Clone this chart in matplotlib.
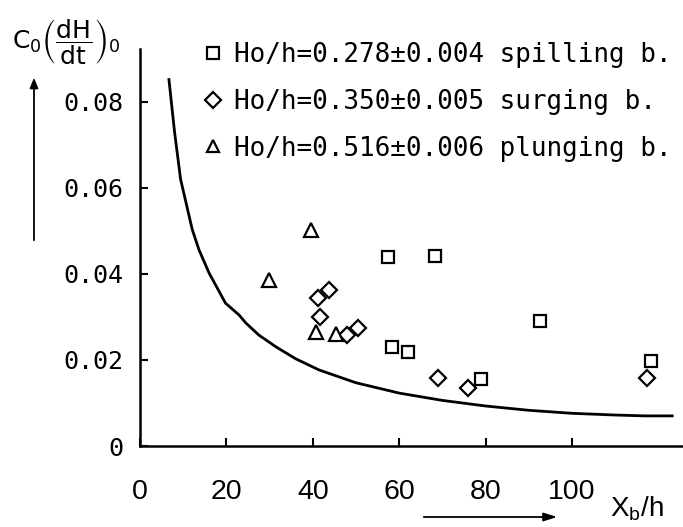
import matplotlib
matplotlib.use("Agg")
import matplotlib.pyplot as plt

# data
spill_x = [57.4, 68.4, 58.4, 62.0, 79.0, 92.5, 118.4]
spill_y = [0.0440, 0.0441, 0.0231, 0.0219, 0.0155, 0.0290, 0.0197]

surg_x = [43.75, 41.2, 41.7, 48.0, 50.5, 69.0, 76.0, 117.4]
surg_y = [0.0362, 0.0343, 0.0299, 0.0259, 0.0274, 0.0159, 0.0134, 0.0159]

plung_x = [39.5, 29.9, 40.7, 45.4]
plung_y = [0.0502, 0.0387, 0.0265, 0.0260]

curve_x = [6.7, 8, 9.4, 12.1, 13.7, 16, 19.8, 22.9, 24.5, 27.5, 31.4, 36, 41.4,
           50, 60, 70, 80, 90, 100, 110, 117, 123.2]
curve_y = [0.0852, 0.0730, 0.0620, 0.0503, 0.0455, 0.0402, 0.0332, 0.0305, 0.0286,
           0.0258, 0.0231, 0.0203, 0.0177, 0.0147, 0.0123, 0.0106, 0.0093, 0.0083,
           0.0076, 0.0072, 0.0070, 0.0070]

labels = ["Ho/h=0.278±0.004 spilling b.",
          "Ho/h=0.350±0.005 surging b.",
          "Ho/h=0.516±0.006 plunging b."]
xticks = [0, 20, 40, 60, 80, 100]
yticks = [0, 0.02, 0.04, 0.06, 0.08]
ytick_labels = ["0", "0.02", "0.04", "0.06", "0.08"]

W, H = 683, 527
fig = plt.figure(figsize=(W / 100, H / 100), dpi=100)
ax = fig.add_axes([140 / W, 1 - 446 / H, 1 - 140 / W, (446 - 49) / H])

ax.plot(curve_x, curve_y, color="black", lw=2.0)
mk = dict(linestyle="none", mfc="white", mec="black", mew=1.6, color="black")
h1, = ax.plot(spill_x, spill_y, marker="s", ms=8.5, label=labels[0], **mk)
h2, = ax.plot(surg_x, surg_y, marker="D", ms=8.5, label=labels[1], **mk)
h3, = ax.plot(plung_x, plung_y, marker="^", ms=10, label=labels[2], **mk)

ax.set_xlim(0, 125.7)
ax.set_ylim(0, 0.0923)
for s in ["top", "right"]:
    ax.spines[s].set_visible(False)
for s in ["left", "bottom"]:
    ax.spines[s].set_linewidth(1.8)

ax.set_xticks(xticks)
ax.set_xticklabels([str(t) for t in xticks], family="Liberation Sans", fontsize=20.5)
ax.set_yticks(yticks)
ax.set_yticklabels(ytick_labels, family="DejaVu Sans Mono", fontsize=18)
ax.tick_params(axis="x", direction="in", length=6, width=1.5, pad=24)
ax.tick_params(axis="y", direction="in", length=6, width=1.5, pad=12)

leg = ax.legend(handles=[h1, h2, h3], loc="upper left",
                bbox_to_anchor=(190 / W, 1 - 29 / H), bbox_transform=fig.transFigure,
                frameon=False, handlelength=0.8, handletextpad=0.4, borderpad=0,
                labelspacing=0.8, prop={"family": "DejaVu Sans Mono", "size": 18.7})
for lh in leg.legend_handles:
    lh.set_markersize(8)

# axis titles and arrows
fig.text(12 / W, 1 - 42 / H, r"$\mathregular{C_0\left(\dfrac{dH}{dt}\right)_0}$",
         fontsize=18, ha="left", va="center")
fig.text(610 / W, 1 - 509 / H, r"$\mathregular{X_b/h}$", fontsize=20,
         ha="left", va="center", family="Liberation Sans")
fig.add_artist(matplotlib.patches.FancyArrowPatch(
    (34 / W, 1 - 243 / H), (34 / W, 1 - 75 / H), transform=fig.transFigure,
    arrowstyle="-|>,head_length=6,head_width=2.5", color="black", lw=1.3))
fig.add_artist(matplotlib.patches.FancyArrowPatch(
    (421 / W, 1 - 517 / H), (560 / W, 1 - 517 / H), transform=fig.transFigure,
    arrowstyle="-|>,head_length=8,head_width=2.5", color="black", lw=1.3))

fig.savefig("out.png", dpi=100)
